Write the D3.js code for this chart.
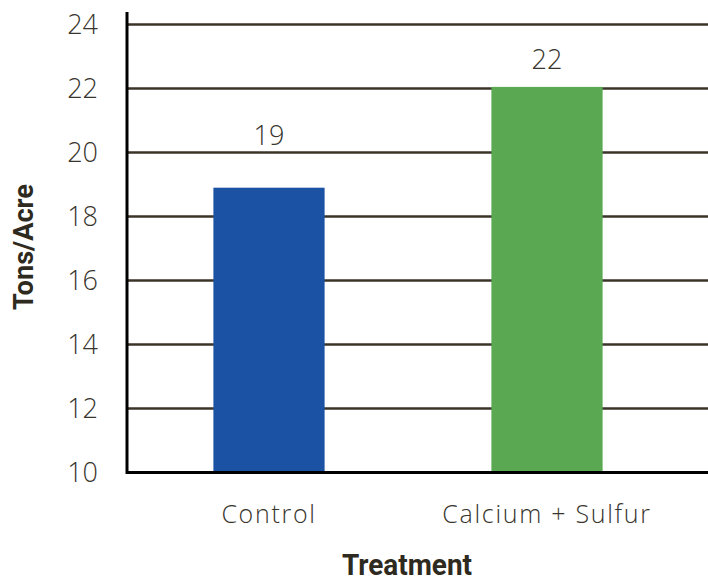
<!DOCTYPE html>
<html>
<head>
<meta charset="utf-8">
<script src="https://cdn.jsdelivr.net/npm/d3@7"></script>
<style>
  body { margin: 0; background: white; }
  svg { display: block; }
</style>
</head>
<body>
<svg id="chart" width="708" height="579"></svg>
<script>
var categories = ["Control", "Calcium + Sulfur"];
var values = [18.9, 22.05];
var valueLabels = ["19", "22"];
var yTicks = [10, 12, 14, 16, 18, 20, 22, 24];
var barColors = ["#1b52a3", "#5ba853"];

var svg = d3.select("#chart");
var textColor = "#38352d";

var x = d3.scaleBand()
    .domain(categories)
    .range([130, 686])
    .paddingInner(0.6)
    .paddingOuter(0.3);

var y = d3.scaleLinear()
    .domain([10, 24])
    .range([472.5, 24.5]);

// gridlines
svg.append("g")
    .selectAll("line")
    .data(yTicks.slice(1))
    .enter()
    .append("line")
    .attr("x1", 127)
    .attr("x2", 708)
    .attr("y1", function(d){return y(d)})
    .attr("y2", function(d){return y(d)})
    .attr("stroke", "#3b3528")
    .attr("stroke-width", 2.5);

// tick labels
svg.append("g")
    .selectAll("text")
    .data(yTicks)
    .enter()
    .append("text")
    .attr("x", 98)
    .attr("y", function(d){return y(d) + 9})
    .attr("text-anchor", "end")
    .attr("font-family", "Open Sans")
    .attr("font-weight", 300)
    .attr("font-size", 27)
    .attr("fill", textColor)
    .text(function(d){return d});

// bars
svg.append("g")
    .selectAll("rect")
    .data(values)
    .enter()
    .append("rect")
    .attr("x", function(d,i){return x(categories[i])})
    .attr("width", x.bandwidth())
    .attr("y", function(d){return y(d)})
    .attr("height", function(d){return y(10) - y(d)})
    .attr("fill", function(d,i){return barColors[i]});

// value labels: sit above the bar, pushed above a gridline if they would cross it
var labelY = function(d) {
    var base = y(d) - 18;
    yTicks.forEach(function(t){
        var gy = y(t);
        if (gy > base - 22 && gy < base + 2) base = gy - 8;
    });
    return base;
};

svg.append("g")
    .selectAll("text")
    .data(values)
    .enter()
    .append("text")
    .attr("x", function(d,i){return x(categories[i]) + x.bandwidth()/2})
    .attr("y", labelY)
    .attr("text-anchor", "middle")
    .attr("font-family", "Open Sans")
    .attr("font-weight", 300)
    .attr("font-size", 27)
    .attr("fill", textColor)
    .text(function(d,i){return valueLabels[i]});

// axes lines
svg.append("line")
    .attr("x1", 127).attr("x2", 127)
    .attr("y1", 12).attr("y2", 474)
    .attr("stroke", "black")
    .attr("stroke-width", 3);
svg.append("line")
    .attr("x1", 126).attr("x2", 708)
    .attr("y1", 472.5).attr("y2", 472.5)
    .attr("stroke", "black")
    .attr("stroke-width", 3);

// category labels
svg.append("g")
    .selectAll("text")
    .data(categories)
    .enter()
    .append("text")
    .attr("x", function(d){return x(d) + x.bandwidth()/2})
    .attr("y", 523)
    .attr("text-anchor", "middle")
    .attr("font-family", "Open Sans")
    .attr("font-weight", 300)
    .attr("font-size", 25)
    .attr("letter-spacing", 1.7)
    .attr("fill", textColor)
    .text(function(d){return d});

// axis titles
svg.append("text")
    .attr("x", 407)
    .attr("y", 575)
    .attr("text-anchor", "middle")
    .attr("font-family", "Roboto")
    .attr("font-weight", 700)
    .attr("font-size", 29)
    .attr("textLength", 130)
    .attr("lengthAdjust", "spacingAndGlyphs")
    .attr("fill", "#2e2a20")
    .text("Treatment");

svg.append("text")
    .attr("transform", "translate(33,247) rotate(-90)")
    .attr("text-anchor", "middle")
    .attr("font-family", "Roboto")
    .attr("font-weight", 700)
    .attr("font-size", 28)
    .attr("textLength", 126)
    .attr("lengthAdjust", "spacingAndGlyphs")
    .attr("fill", "#2e2a20")
    .text("Tons/Acre");
</script>
</body>
</html>
